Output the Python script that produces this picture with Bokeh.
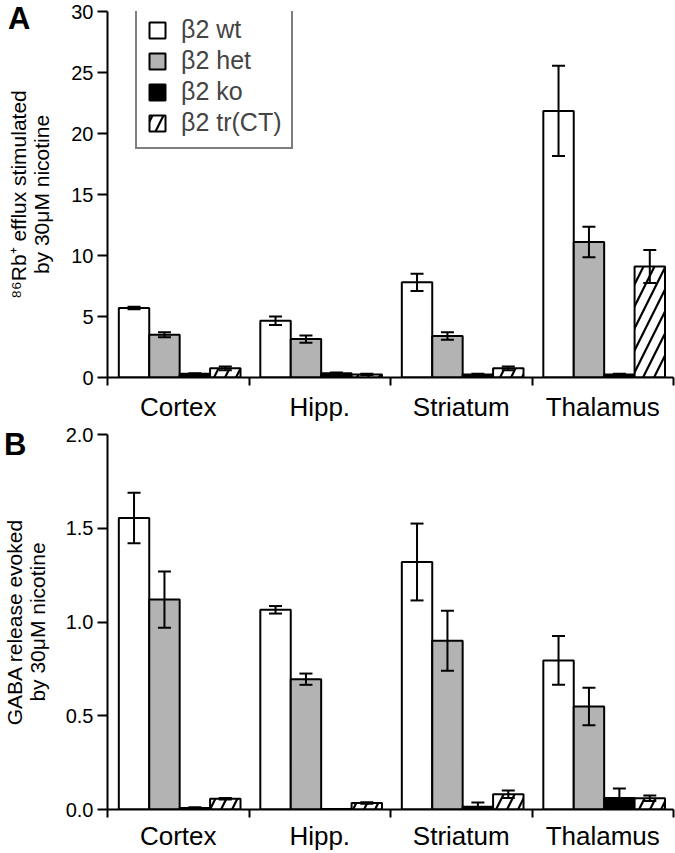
from bokeh.plotting import figure
from bokeh.layouts import column
from bokeh.models import (ColumnDataSource, Range1d, FixedTicker, SingleIntervalTicker,
                          PrintfTickFormatter, Whisker, TeeHead, LinearAxis)
from bokeh.embed import file_html
from bokeh.resources import INLINE

# ---------------- data ----------------
regions = ["Cortex", "Hipp.", "Striatum", "Thalamus"]
genotypes = ["β2 wt", "β2 het", "β2 ko", "β2 tr(CT)"]

# Panel A: 86Rb+ efflux stimulated by 30 µM nicotine
rb_wt = [5.7, 4.65, 7.8, 21.85]
rb_wt_err = [0.1, 0.35, 0.7, 3.7]
rb_het = [3.5, 3.15, 3.4, 11.1]
rb_het_err = [0.2, 0.3, 0.3, 1.25]
rb_ko = [0.3, 0.35, 0.25, 0.25]
rb_ko_err = [0.05, 0.05, 0.05, 0.05]
rb_tr = [0.75, 0.25, 0.75, 9.1]
rb_tr_err = [0.15, 0.05, 0.15, 1.35]

# Panel B: GABA release evoked by 30 µM nicotine
gaba_wt = [1.555, 1.065, 1.32, 0.795]
gaba_wt_err = [0.135, 0.02, 0.205, 0.13]
gaba_het = [1.12, 0.695, 0.9, 0.55]
gaba_het_err = [0.15, 0.03, 0.16, 0.1]
gaba_ko = [0.008, 0.003, 0.015, 0.062]
gaba_ko_err = [0.004, 0.0, 0.022, 0.05]
gaba_tr = [0.058, 0.035, 0.082, 0.06]
gaba_tr_err = [0.004, 0.004, 0.02, 0.015]

ylabel_a = "⁸⁶Rb⁺ efflux stimulated\nby 30μM nicotine"
ylabel_b = "GABA release evoked\nby 30μM nicotine"

# ---------------- style ----------------
FONT = "Liberation Sans"
BAR_W = 0.215
SHIFT = 0.01
styles = [
    dict(fill_color="white"),
    dict(fill_color="#b3b3b3"),
    dict(fill_color="black"),
    dict(fill_color="white", hatch_pattern="/", hatch_color="black", hatch_scale=22, hatch_weight=2.2),
]


def make_panel(series, errs, yend, interval, fmt, height, top_border, bottom_border,
               xlabel_standoff, letter, letter_y, letter_standoff, ylabel, ylabel_standoff,
               legend=False):
    p = figure(width=675, height=height, output_backend="svg", toolbar_location=None,
               x_range=Range1d(0, len(regions)), y_range=Range1d(0, yend),
               min_border_left=107, min_border_right=2, min_border_top=top_border,
               min_border_bottom=bottom_border, x_axis_type=None, y_axis_type=None)
    p.outline_line_color = None
    p.xgrid.visible = False
    p.ygrid.visible = False
    p.background_fill_color = "white"

    centers = [i + 0.5 for i in range(len(regions))]
    for k, (vals, err) in enumerate(zip(series, errs)):
        off = (k - 1.5) * BAR_W + SHIFT
        xs = [c + off for c in centers]
        src = ColumnDataSource(dict(x=xs, top=vals,
                                    upper=[v + e for v, e in zip(vals, err)],
                                    lower=[v - e for v, e in zip(vals, err)]))
        kw = dict(x="x", top="top", width=BAR_W, bottom=0, source=src,
                  line_color="black", line_width=2, **styles[k])
        if legend:
            kw["legend_label"] = genotypes[k]
        p.vbar(**kw)
        w = Whisker(base="x", upper="upper", lower="lower", source=src,
                    line_color="black", line_width=2, level="annotation",
                    upper_head=TeeHead(size=13, line_width=2, line_color="black"),
                    lower_head=TeeHead(size=13, line_width=2, line_color="black"))
        p.add_layout(w)

    if legend:
        lg = p.legend[0]
        lg.location = (28, 228)
        lg.label_text_font = FONT
        lg.label_text_font_size = "25px"
        lg.glyph_width = 20
        lg.glyph_height = 20
        lg.label_standoff = 14
        lg.spacing = 2
        lg.padding = 10
        lg.border_line_color = "black"
        lg.border_line_width = 2
        lg.background_fill_color = "white"
        lg.background_fill_alpha = 1

    # y axis with ticks and numbers
    yax = LinearAxis(ticker=SingleIntervalTicker(interval=interval),
                     formatter=PrintfTickFormatter(format=fmt))
    yax.axis_line_width = 2
    yax.major_tick_line_width = 2
    yax.major_tick_out = 10
    yax.major_tick_in = 0
    yax.minor_tick_line_color = None
    yax.major_label_text_font = FONT
    yax.major_label_text_font_size = "20px"
    yax.major_label_text_color = "black"
    yax.major_label_standoff = 4
    yax.axis_line_color = "black"
    yax.major_tick_line_color = "black"
    p.add_layout(yax, "left")

    # outer left axis: carries the panel letter and the axis title only
    lax = LinearAxis(ticker=FixedTicker(ticks=[letter_y], minor_ticks=[]))
    lax.major_label_overrides = {letter_y: letter}
    lax.axis_line_color = None
    lax.major_tick_line_color = None
    lax.minor_tick_line_color = None
    lax.major_tick_out = 0
    lax.major_tick_in = 0
    lax.major_label_standoff = letter_standoff
    lax.major_label_text_font = FONT
    lax.major_label_text_font_style = "bold"
    lax.major_label_text_font_size = "31px"
    lax.major_label_text_color = "black"
    lax.axis_label = ylabel
    lax.axis_label_text_font = FONT
    lax.axis_label_text_font_size = "21px"
    lax.axis_label_text_line_height = 1.0
    lax.axis_label_text_font_style = "normal"
    lax.axis_label_text_color = "black"
    lax.axis_label_standoff = ylabel_standoff
    p.add_layout(lax, "left")

    # x axis: labels at the centres, ticks at the borders
    xax = LinearAxis(ticker=FixedTicker(ticks=centers,
                                        minor_ticks=list(range(len(regions) + 1))))
    xax.major_label_overrides = {c: r for c, r in zip(centers, regions)}
    xax.axis_line_width = 2
    xax.major_tick_line_color = None
    xax.major_tick_out = 0
    xax.major_tick_in = 0
    xax.minor_tick_line_width = 2
    xax.minor_tick_line_color = "black"
    xax.minor_tick_out = 8
    xax.minor_tick_in = 0
    xax.major_label_text_font = FONT
    xax.major_label_text_font_size = "26px"
    xax.major_label_text_color = "black"
    xax.major_label_standoff = xlabel_standoff
    p.add_layout(xax, "below")
    return p


pa = make_panel([rb_wt, rb_het, rb_ko, rb_tr], [rb_wt_err, rb_het_err, rb_ko_err, rb_tr_err],
                30, 5, "%d", 424, 11, 46, 6, "A", 29.45, 38, ylabel_a, -48, legend=True)
pb = make_panel([gaba_wt, gaba_het, gaba_ko, gaba_tr],
                [gaba_wt_err, gaba_het_err, gaba_ko_err, gaba_tr_err],
                2.0, 0.5, "%.1f", 429, 10, 43, 3, "B", 1.975, 36, ylabel_b, -48)

layout = column(pa, pb)
open("out.html", "w").write(file_html(layout, INLINE))
